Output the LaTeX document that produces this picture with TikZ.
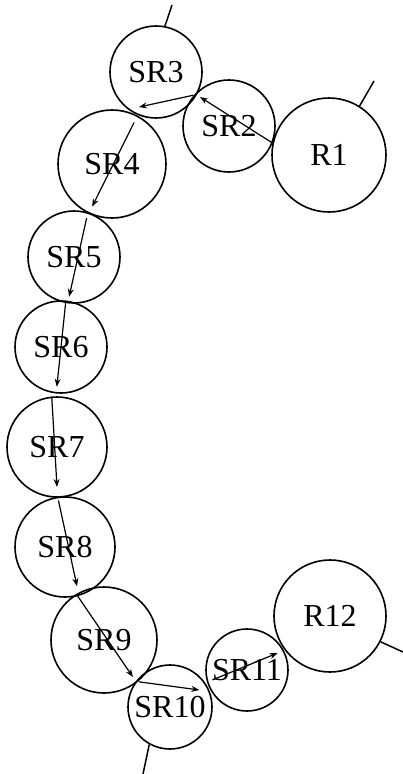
\documentclass[tikz,border=0pt]{standalone}
\usepackage{fontspec}
\setmainfont{Liberation Serif}
\usetikzlibrary{calc,arrows.meta}
\begin{document}
\begin{tikzpicture}[x=1pt,y=-1pt,
  ring/.style={circle,draw,line width=1.6pt,inner sep=0pt,font=\fontsize{32}{38}\selectfont},
  arr/.style={line width=1.2pt,-{Stealth[length=8pt,width=6pt]}},
  stub/.style={line width=1.5pt}]
\useasboundingbox (0,0) rectangle (403,774);
\node[ring,minimum size=114pt] (R1) at (329,155) {R1};
\node[ring,minimum size=92pt] (SR2) at (229,126) {SR2};
\node[ring,minimum size=92pt] (SR3) at (156,72) {SR3};
\node[ring,minimum size=108pt] (SR4) at (112,164) {SR4};
\node[ring,minimum size=92pt] (SR5) at (74,257) {SR5};
\node[ring,minimum size=92pt] (SR6) at (61,347) {SR6};
\node[ring,minimum size=100pt] (SR7) at (57,447) {SR7};
\node[ring,minimum size=100pt] (SR8) at (65,547) {SR8};
\node[ring,minimum size=106pt] (SR9) at (104,640) {SR9};
\node[ring,minimum size=84pt] (SR10) at (170,707) {SR10};
\node[ring,minimum size=82pt] (SR11) at (247,670) {SR11};
\node[ring,minimum size=112pt] (R12) at (330,616) {R12};
% stubs
\coordinate (t3) at (172,5);
\coordinate (t1) at (374,81);
\coordinate (t12) at (403,652);
\coordinate (t10) at (143,774);
\draw[stub] (SR3.79) -- (t3);
\draw[stub] (R1.58) -- (t1);
\draw[stub] (R12.-27) -- (t12);
\draw[stub] (SR10.241) -- (t10);
% arrows
\draw[arr] (R1.168) -- ($(SR2.center)+(135:41pt)$);
\draw[arr] ($(SR2.center)+(139:47pt)$) -- ($(SR3.center)+(244:39pt)$);
\draw[arr] ($(SR4.center)+(62:47pt)$) -- ($(SR4.center)+(245:47pt)$);
\draw[arr] ($(SR5.center)+(72:41pt)$) -- ($(SR5.center)+(263:40pt)$);
\draw[arr] ($(SR6.center)+(84:44pt)$) -- ($(SR6.center)+(264:40pt)$);
\draw[arr] ($(SR7.center)+(96:50pt)$) -- ($(SR7.center)+(270:40pt)$);
\draw[arr] ($(SR8.center)+(98:47pt)$) -- ($(SR8.center)+(287:41pt)$);
\draw[arr] ($(SR9.center)+(121:52pt)$) -- ($(SR9.center)+(308:47pt)$);
\draw[arr] ($(SR10.center)+(141:40pt)$) -- ($(SR10.center)+(30:34pt)$);
\draw[arr] ($(SR11.center)+(196:36pt)$) -- ($(SR11.center)+(29:35pt)$);
\end{tikzpicture}
\end{document}
